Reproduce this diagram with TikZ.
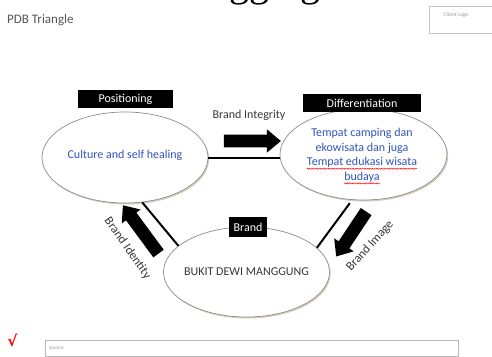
\documentclass[tikz,border=0pt]{standalone}
\usepackage{fontspec}
\setmainfont{Carlito}
\newfontfamily\ttlfont{Liberation Serif}
\newfontfamily\symfont{DejaVu Sans}
\usetikzlibrary{shapes.geometric,shapes.arrows,shadows,decorations.pathmorphing}
\definecolor{txtblue}{RGB}{50,84,190}
\definecolor{txtgray}{RGB}{55,55,55}
\definecolor{ellgray}{RGB}{140,140,140}
\definecolor{shad}{RGB}{214,206,184}
\newlength\wTempat
\newlength\wEkow
\begin{document}
\begin{tikzpicture}[x=1pt,y=-1pt,
  twelve/.style={font=\fontsize{12}{14.7}\selectfont},
  lbl/.style={twelve,fill=black,text=white,inner sep=0pt,minimum height=18pt},
  ell/.style={ellipse,draw=ellgray,line width=0.7pt,fill=white,inner sep=0pt,
    minimum width=166pt,minimum height=91pt,
    drop shadow={shadow xshift=1.2pt,shadow yshift=-1.5pt,fill=shad,opacity=1}},
  blkarrow/.style={single arrow,fill=black,inner xsep=0pt,inner ysep=6.25pt,
    text height=0pt,text depth=0pt,minimum width=0pt,
    single arrow head extend=5.25pt,single arrow tip angle=80},
  bar/.style={line width=2pt,black},
  dtline/.style={twelve,text=txtblue,inner sep=0pt,anchor=base},
  wave/.style={red,line width=0.45pt,decorate,
    decoration={snake,amplitude=0.6pt,segment length=2.4pt}},
  sidetext/.style={txtgray,font=\fontsize{12.5}{15}\selectfont,inner sep=0pt}]
\settowidth{\wTempat}{\fontsize{12}{14.7}\selectfont Tempat}
\settowidth{\wEkow}{\fontsize{12}{14.7}\selectfont ekowisata}
\useasboundingbox (0,0) rectangle (492,356);
\clip (0,0) rectangle (492,356);
\fill[white] (0,0) rectangle (492,356);

% cut-off title
\node[anchor=base west,inner sep=0pt,font=\ttlfont\fontsize{40}{40}\selectfont] (ttl) at (229,-3.6) {gging};

% header
\node[anchor=base west,inner sep=0pt,text=txtgray!85,font=\fontsize{13}{15}\selectfont] (hdr) at (7,23) {PDB Triangle};
\node[draw=gray!45,line width=0.5pt,anchor=north west,minimum width=72pt,minimum height=27pt,inner sep=0pt] (logo) at (429,6) {};
\node[inner sep=0pt,text=gray!80,font=\fontsize{5.5}{6}\selectfont] (logotxt) at (456,15) {Client Logo};

% ellipses
\node[ell] (pos) at (125,157.5) {};
\node[ell,minimum width=167pt] (dif) at (363.5,154.5) {};
\node[ell,minimum height=90pt] (brd) at (246.5,272) {};

\node[twelve,text=txtblue] (postxt) at (125,155) {Culture and self healing};
\node[dtline] (dt1) at (362,136.5) {Tempat camping dan};
\node[dtline] (dt2) at (362,151.2) {ekowisata dan juga};
\node[dtline] (dt3) at (362,165.9) {Tempat edukasi wisata};
\node[dtline] (dt4) at (362,180.6) {budaya};
\draw[wave] ([yshift=-2.8pt]dt1.base west) -- ++(\wTempat,0pt);
\draw[wave] ([yshift=-2.8pt]dt2.base west) -- ++(\wEkow,0pt);
\draw[wave] ([yshift=-2.8pt]dt3.base west) -- ([yshift=-2.8pt]dt3.base east);
\draw[wave] ([yshift=-2.8pt]dt4.base west) -- ([yshift=-2.8pt]dt4.base east);
\node[twelve,text=txtgray] (brdtxt) at (246.5,272) {BUKIT DEWI MANGGUNG};

% labels
\node[lbl,minimum width=95pt] (posl) at (125.5,99) {Positioning};
\node[lbl,minimum width=118pt] (difl) at (362,103) {Differentiation};
\node[lbl,minimum width=38pt,minimum height=20pt] (brdl) at (248,227) {Brand};

% Brand Integrity
\node[twelve,text=txtgray,inner sep=0pt] (bint) at (249,115) {Brand Integrity};
\node[blkarrow,minimum height=57pt] (ar1) at (248.5,141) {};
\draw[bar] (pos.east) -- (pos.east -| dif.west);

% Brand Identity
\node[blkarrow,minimum height=60pt,rotate=126.4] (ar2) at (143,232.5) {};
\draw[bar] (pos.-69) -- (brd.159.5);
\node[sidetext,rotate=-55] (bid) at (127.5,248.3) {Brand Identity};

% Brand Image
\node[blkarrow,minimum height=54pt,rotate=236.3] (ar3) at (353.3,230.8) {};
\draw[bar,shorten <=4pt] (dif.256) -- (brd.19);
\node[sidetext,rotate=48] (bim) at (370,246) {Brand Image};

% footer
\node[inner sep=0pt,text=red,font=\symfont\bfseries\fontsize{15}{15}\selectfont] (chk) at (12.5,340) {√};
\node[draw=gray!55,line width=0.5pt,anchor=north west,minimum width=413pt,minimum height=15.5pt,inner sep=0pt] (src) at (45,340) {};
\node[anchor=west,inner sep=0pt,text=gray!80,font=\fontsize{5}{6}\selectfont] (srctxt) at (49,347.5) {Source:};
\end{tikzpicture}
\end{document}
